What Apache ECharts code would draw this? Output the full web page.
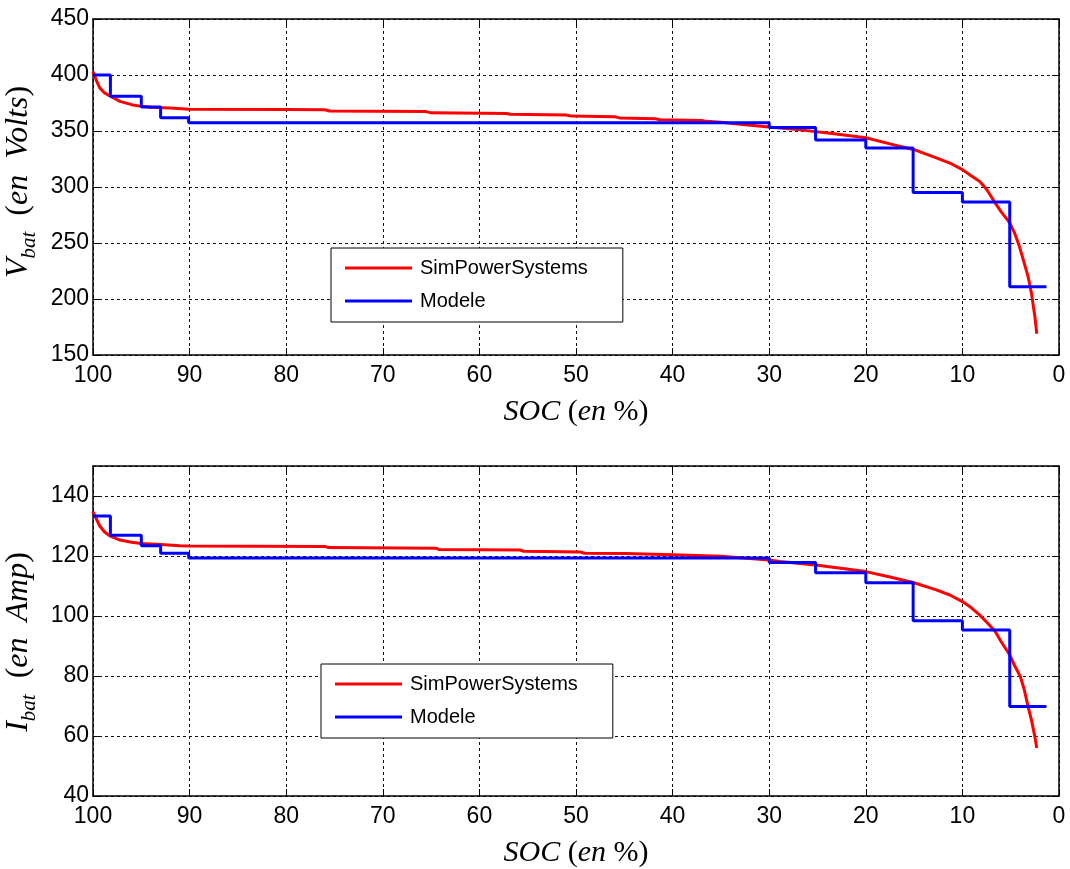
<!DOCTYPE html>
<html>
<head>
<meta charset="utf-8">
<script src="https://cdn.jsdelivr.net/npm/echarts@6/dist/echarts.min.js"></script>
<style>
  html, body { margin: 0; padding: 0; background: #ffffff; }
  #chart { width: 1070px; height: 869px; }
</style>
</head>
<body>
<div id="chart"></div>
<script>
// ---- Battery discharge: voltage and current versus state of charge ----

// SimPowerSystems reference curve, voltage (SOC %, V)
const socSimV = [100, 99.6, 99.3, 98.8, 98.2, 97.2, 96, 95, 94, 92, 90, 80, 76, 75.5, 65.5, 65, 57.2, 56.8,
                 51, 50.5, 46, 45.5, 41.8, 41.3, 37, 36.5, 35, 32.5, 30, 26.8, 23.7, 20, 17.5, 15, 12.7, 11.3,
                 10, 9.1, 8.2, 7.5, 6.7, 6.0, 5.1, 4.6, 4.1, 3.6, 3.2, 2.85, 2.5, 2.3];
const vSim = [403, 394, 388.5, 384, 381, 376.5, 373.5, 372, 371.3, 370.5, 369.5, 369.2, 369, 367.9, 367.3, 366.2, 365.7, 364.9,
              364.3, 363.3, 362.8, 361.7, 361, 360.1, 359.4, 358.6, 357.9, 355.5, 353.5, 351, 348, 344, 338.5, 333.3, 326, 321.4,
              315.5, 310, 305, 298, 287, 278, 268, 259, 247, 232, 220, 205, 184.5, 169];

// SimPowerSystems reference curve, current (SOC %, A)
const socSimI = [100, 99.6, 99.3, 98.8, 98.2, 97.2, 96, 95, 93, 91, 90, 76, 75.6, 64.5, 64.2, 55.8, 55.4,
                 49.5, 49.1, 45, 40, 35, 30, 28.9, 25, 20, 17.5, 15, 12.7, 11.3, 10, 9.1, 8.2, 7.5, 6.6, 6.0,
                 5.1, 4.6, 4.0, 3.6, 3.2, 2.85, 2.5, 2.3];
const iSim = [134.8, 132, 130, 128, 126.6, 125.3, 124.6, 124.2, 123.8, 123.4, 123.3, 123.2, 122.8, 122.6, 122.2, 122.0, 121.6,
              121.3, 120.9, 120.8, 120.4, 119.9, 118.7, 118.2, 116.9, 114.8, 113, 111.1, 108.7, 107, 104.8, 102.8, 100.3, 98, 94.8, 91.5,
              87, 83.5, 79.8, 75.5, 69.8, 65.3, 59.8, 56];

// Piecewise-constant model: SOC breakpoints and the level held on each interval
const socModele = [100, 98.2, 95, 93, 90.1, 30, 25.2, 20, 15.1, 10, 5.1, 1.3];
const vModele = [400, 381, 371.5, 361.8, 357.3, 353.2, 342, 334.8, 295, 286.6, 211];
const iModele = [133.3, 126.9, 123.4, 120.9, 119.3, 117.8, 114.4, 111.1, 98.4, 95.3, 69.8];

// Axis ranges and tick spacing
const socRange = [0, 100, 10];
const vRange = [150, 450, 50];
const iRange = [40, 150, 20];

const seriesNames = ['SimPowerSystems', 'Modele'];

function pairs(xs, ys) {
  return xs.map((x, k) => [x, ys[k]]);
}
function steps(bps, levels) {
  const out = [];
  levels.forEach((lv, k) => {
    out.push([bps[k], lv]);
    out.push([bps[k + 1], lv]);
  });
  return out;
}

const tickFont = { fontFamily: 'Liberation Sans, Arial, sans-serif', fontSize: 23, color: '#000' };
const serif = 'Liberation Serif, Times New Roman, serif';
const gridDash = { show: true, lineStyle: { color: '#111', width: 1, type: [3, 3] } };
const frameLine = { show: true, onZero: false, lineStyle: { color: '#000', width: 1.5 } };
const inTick = { show: true, inside: true, length: 7, lineStyle: { color: '#000', width: 1 } };

const socTitle = {
  name: '{i|SOC }{r|(}{i|en }{r|%)}',
  nameLocation: 'middle',
  nameGap: 42,
  nameTextStyle: {
    verticalAlign: 'top',
    rich: {
      i: { fontFamily: serif, fontStyle: 'italic', fontSize: 30, color: '#000' },
      r: { fontFamily: serif, fontSize: 30, color: '#000' }
    }
  }
};

function xMain(grid) {
  return Object.assign({
    type: 'value', gridIndex: grid, position: 'bottom', inverse: true,
    min: socRange[0], max: socRange[1], interval: socRange[2],
    axisLine: frameLine, axisTick: inTick, splitLine: gridDash,
    axisLabel: Object.assign({ margin: 9 }, tickFont)
  }, socTitle);
}
function xTop(grid) {
  return {
    type: 'value', gridIndex: grid, position: 'top', inverse: true,
    min: socRange[0], max: socRange[1], interval: socRange[2],
    axisLine: frameLine, axisTick: inTick, splitLine: { show: false }, axisLabel: { show: false }
  };
}
// Rotated y title: symbol with subscript, then the unit in parentheses.
// lead / trail pad the ends so the title sits a little off the axis centre.
function yMain(grid, range, sym, sub, unit, showMax, lead, trail) {
  const big = { fontFamily: serif, fontSize: 32, color: '#000', lineHeight: 42, verticalAlign: 'middle' };
  return {
    type: 'value', gridIndex: grid, position: 'left',
    min: range[0], max: range[1], interval: range[2],
    axisLine: frameLine, axisTick: inTick, splitLine: gridDash,
    axisLabel: Object.assign({ margin: 4, showMaxLabel: showMax }, tickFont),
    name: '{f|' + sym + '}{s|' + sub + '}{r|  (}{m|en  ' + unit + '}{e|)}',
    nameLocation: 'middle', nameRotate: 90, nameGap: 53,
    nameTextStyle: {
      rich: {
        f: Object.assign({}, big, { fontStyle: 'italic', padding: [0, 0, 0, lead] }),
        m: Object.assign({}, big, { fontStyle: 'italic' }),
        r: Object.assign({}, big),
        e: Object.assign({}, big, { padding: [0, trail, 0, 0] }),
        s: { fontFamily: serif, fontStyle: 'italic', fontSize: 21, color: '#000', lineHeight: 25, verticalAlign: 'bottom' }
      }
    }
  };
}
function yRight(grid, range) {
  return {
    type: 'value', gridIndex: grid, position: 'right',
    min: range[0], max: range[1], interval: range[2],
    axisLine: frameLine, axisTick: inTick, splitLine: { show: false }, axisLabel: { show: false }
  };
}

function legendBox(left, top) {
  return {
    orient: 'vertical', left: left, top: top,
    data: seriesNames,
    icon: 'rect',
    backgroundColor: '#fff', borderColor: '#000', borderWidth: 1, borderRadius: 0,
    padding: [10, 35, 11, 14], itemGap: 13,
    itemWidth: 67, itemHeight: 3,
    textStyle: { fontFamily: 'Liberation Sans, Arial, sans-serif', fontSize: 20, color: '#000', padding: [0, 0, 0, 3], lineHeight: 20 },
    selectedMode: false
  };
}

function lineSeries(name, data, color, xi, yi) {
  return {
    name: name, type: 'line', data: data, xAxisIndex: xi, yAxisIndex: yi,
    symbol: 'none', lineStyle: { color: color, width: 3 }, itemStyle: { color: color },
    clip: true
  };
}

const chart = echarts.init(document.getElementById('chart'), null, { renderer: 'canvas' });
chart.setOption({
  animation: false,
  backgroundColor: '#fff',
  grid: [
    { left: 93, right: 11, top: 19, height: 336, outerBoundsMode: 'none', containLabel: false },
    { left: 93, right: 11, top: 466, height: 330, outerBoundsMode: 'none', containLabel: false }
  ],
  xAxis: [xMain(0), xTop(0), xMain(1), xTop(1)],
  yAxis: [
    yMain(0, vRange, 'V', 'bat', 'Volts', true, 10, 0), yRight(0, vRange),
    yMain(1, iRange, 'I', 'bat', 'Amp', false, 0, 22), yRight(1, iRange)
  ],
  legend: [legendBox(331, 248), legendBox(321, 664)],
  series: [
    lineSeries(seriesNames[0], pairs(socSimV, vSim), '#ff0000', 0, 0),
    lineSeries(seriesNames[1], steps(socModele, vModele), '#0000ff', 0, 0),
    lineSeries(seriesNames[0], pairs(socSimI, iSim), '#ff0000', 2, 2),
    lineSeries(seriesNames[1], steps(socModele, iModele), '#0000ff', 2, 2)
  ]
});
</script>
</body>
</html>
